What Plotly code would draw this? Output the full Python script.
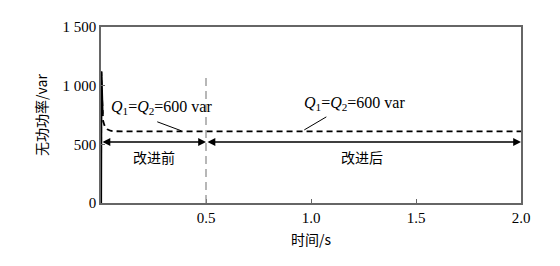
import plotly.graph_objects as go

# data
t = [0.0, 0.0015, 0.003, 0.005, 0.007, 0.01, 0.015, 0.02, 0.03, 0.045, 0.06, 0.1, 0.5, 1.0, 1.5, 2.0]
q = [0, 1120, 1030, 900, 760, 700, 670, 645, 628, 616, 612, 610, 610, 610, 610, 610]
n_solid = 5  # initial transient drawn solid

x_tickvals = [0.5, 1.0, 1.5, 2.0]
x_ticktext = ["0.5", "1.0", "1.5", "2.0"]
y_tickvals = [0, 500, 1000, 1500]
y_ticktext = ["0", "500", "1 000", "1 500"]

switch_t = 0.5
arrow_level = 520
label_txt = "<i>Q</i><sub>1</sub>=<i>Q</i><sub>2</sub>=600 var"

SERIF = "Times New Roman, Liberation Serif, DejaVu Serif, serif"
CJK = "Noto Sans CJK SC"

fig = go.Figure()
fig.add_trace(go.Scatter(x=t, y=q, mode="lines",
                         line=dict(color="black", width=1.8, dash="6px,4px"),
                         showlegend=False))
fig.add_trace(go.Scatter(x=t[:n_solid], y=q[:n_solid], mode="lines",
                         line=dict(color="black", width=2.2),
                         showlegend=False))

# vertical switch line
fig.add_shape(type="line", x0=switch_t, x1=switch_t, y0=0, y1=1100,
              xref="x", yref="y", line=dict(color="#888888", width=1.2, dash="8px,5px"))

# double-headed arrows
for a, b in [(0.0, switch_t), (switch_t, 2.0)]:
    fig.add_annotation(x=b, y=arrow_level, ax=a, ay=arrow_level, xref="x", yref="y",
                       axref="x", ayref="y", text="", showarrow=True,
                       arrowhead=2, arrowside="end+start", arrowsize=1.2,
                       arrowwidth=1.3, arrowcolor="black")

fig.add_annotation(x=0.254, y=392, text="改进前", showarrow=False,
                   font=dict(family=CJK, size=14, color="black"))
fig.add_annotation(x=1.245, y=392, text="改进后", showarrow=False,
                   font=dict(family=CJK, size=14, color="black"))

# Q labels with leader lines
fig.add_annotation(x=0.29, y=815, text=label_txt, showarrow=False,
                   font=dict(family=SERIF, size=16, color="black"))
fig.add_shape(type="line", x0=0.268, y0=692, x1=0.383, y1=615, xref="x", yref="y",
              line=dict(color="black", width=1))
fig.add_annotation(x=1.207, y=848, text=label_txt, showarrow=False,
                   font=dict(family=SERIF, size=16, color="black"))
fig.add_shape(type="line", x0=0.968, y0=623, x1=1.073, y1=734, xref="x", yref="y",
              line=dict(color="black", width=1))

fig.update_layout(
    width=560, height=266,
    margin=dict(l=101, r=39, t=27, b=63),
    plot_bgcolor="white", paper_bgcolor="white",
    font=dict(family=SERIF, size=14, color="black"),
    showlegend=False,
)
fig.update_xaxes(range=[0, 2.0], tickvals=x_tickvals, ticktext=x_ticktext,
                 ticks="inside", ticklen=4, tickcolor="#666666",
                 showline=True, linecolor="#666666", linewidth=1.5, mirror=True,
                 showgrid=False, zeroline=False,
                 title=dict(text="时间/s", font=dict(family=CJK, size=14), standoff=10),
                 tickfont=dict(family=SERIF, size=15))
fig.update_yaxes(range=[0, 1500], tickvals=y_tickvals, ticktext=y_ticktext,
                 ticks="inside", ticklen=4, tickcolor="#666666",
                 showline=True, linecolor="#666666", linewidth=1.5, mirror=True,
                 showgrid=False, zeroline=False,
                 title=dict(text="无功功率/var", font=dict(family=CJK, size=14), standoff=12),
                 tickfont=dict(family=SERIF, size=15))

fig.write_html("out.html")
